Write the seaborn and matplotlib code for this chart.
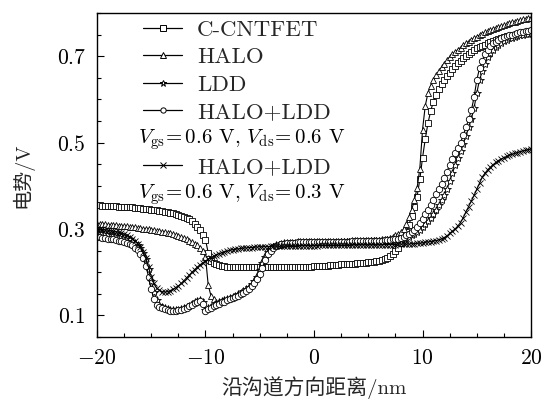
import numpy as np
import pandas as pd
import seaborn as sns
import matplotlib
matplotlib.use("Agg")
import matplotlib.pyplot as plt
from matplotlib.lines import Line2D

# position along the channel (nm), 0.25 nm mesh
position = np.arange(-20, 20.01, 0.25)

cntfet = [
    0.355, 0.355, 0.354, 0.354, 0.354, 0.353, 0.353, 0.353,
    0.352, 0.352, 0.351, 0.351, 0.350, 0.350, 0.349, 0.349,
    0.348, 0.347, 0.346, 0.346, 0.345, 0.344, 0.343, 0.342,
    0.341, 0.340, 0.339, 0.338, 0.336, 0.335, 0.333, 0.331,
    0.328, 0.325, 0.322, 0.318, 0.312, 0.305, 0.297, 0.287,
    0.275, 0.245, 0.226, 0.222, 0.219, 0.217, 0.215, 0.214,
    0.213, 0.213, 0.212, 0.212, 0.212, 0.212, 0.212, 0.212,
    0.212, 0.212, 0.212, 0.212, 0.212, 0.212, 0.212, 0.212,
    0.212, 0.212, 0.212, 0.212, 0.212, 0.212, 0.212, 0.212,
    0.212, 0.212, 0.213, 0.213, 0.213, 0.213, 0.213, 0.213,
    0.214, 0.214, 0.215, 0.215, 0.215, 0.215, 0.216, 0.216,
    0.217, 0.217, 0.218, 0.218, 0.219, 0.219, 0.220, 0.220,
    0.221, 0.221, 0.222, 0.222, 0.223, 0.223, 0.224, 0.225,
    0.226, 0.228, 0.230, 0.233, 0.237, 0.242, 0.249, 0.257,
    0.267, 0.279, 0.292, 0.310, 0.330, 0.350, 0.375, 0.415,
    0.465, 0.508, 0.545, 0.573, 0.595, 0.610, 0.623, 0.635,
    0.645, 0.654, 0.662, 0.670, 0.677, 0.684, 0.690, 0.696,
    0.701, 0.706, 0.710, 0.714, 0.718, 0.721, 0.724, 0.727,
    0.730, 0.732, 0.735, 0.737, 0.740, 0.742, 0.744, 0.746,
    0.747, 0.749, 0.750, 0.751, 0.752, 0.753, 0.754, 0.755,
    0.756,
]
halo = [
    0.312, 0.312, 0.311, 0.311, 0.310, 0.310, 0.309, 0.309,
    0.308, 0.308, 0.307, 0.306, 0.305, 0.305, 0.304, 0.303,
    0.302, 0.301, 0.300, 0.299, 0.298, 0.297, 0.296, 0.295,
    0.294, 0.293, 0.291, 0.290, 0.288, 0.286, 0.284, 0.282,
    0.279, 0.276, 0.273, 0.270, 0.266, 0.262, 0.256, 0.248,
    0.236, 0.170, 0.146, 0.137, 0.131, 0.132, 0.134, 0.136,
    0.138, 0.140, 0.143, 0.146, 0.149, 0.152, 0.156, 0.160,
    0.166, 0.172, 0.181, 0.193, 0.210, 0.226, 0.240, 0.249,
    0.256, 0.260, 0.263, 0.265, 0.266, 0.267, 0.267, 0.268,
    0.268, 0.268, 0.269, 0.269, 0.269, 0.269, 0.270, 0.270,
    0.270, 0.270, 0.270, 0.270, 0.271, 0.271, 0.271, 0.271,
    0.271, 0.271, 0.272, 0.272, 0.272, 0.272, 0.272, 0.273,
    0.273, 0.273, 0.273, 0.273, 0.273, 0.274, 0.274, 0.275,
    0.275, 0.276, 0.277, 0.278, 0.280, 0.282, 0.285, 0.288,
    0.292, 0.300, 0.312, 0.327, 0.345, 0.367, 0.395, 0.440,
    0.530, 0.585, 0.615, 0.632, 0.645, 0.656, 0.665, 0.674,
    0.683, 0.691, 0.698, 0.704, 0.710, 0.715, 0.720, 0.725,
    0.730, 0.734, 0.738, 0.742, 0.745, 0.749, 0.752, 0.755,
    0.758, 0.761, 0.763, 0.766, 0.768, 0.770, 0.772, 0.774,
    0.776, 0.778, 0.779, 0.781, 0.783, 0.785, 0.786, 0.788,
    0.789,
]
ldd = [
    0.293, 0.292, 0.291, 0.290, 0.289, 0.288, 0.287, 0.286,
    0.284, 0.283, 0.281, 0.279, 0.276, 0.273, 0.268, 0.262,
    0.255, 0.245, 0.230, 0.208, 0.180, 0.155, 0.135, 0.125,
    0.120, 0.116, 0.114, 0.113, 0.112, 0.112, 0.113, 0.114,
    0.116, 0.119, 0.122, 0.126, 0.131, 0.134, 0.136, 0.130,
    0.112, 0.116, 0.120, 0.124, 0.127, 0.130, 0.133, 0.135,
    0.138, 0.140, 0.143, 0.146, 0.149, 0.152, 0.156, 0.160,
    0.166, 0.172, 0.180, 0.190, 0.205, 0.222, 0.236, 0.247,
    0.254, 0.259, 0.262, 0.264, 0.266, 0.267, 0.267, 0.268,
    0.268, 0.268, 0.269, 0.269, 0.269, 0.269, 0.270, 0.270,
    0.270, 0.270, 0.270, 0.270, 0.270, 0.270, 0.271, 0.271,
    0.271, 0.271, 0.271, 0.271, 0.271, 0.271, 0.272, 0.272,
    0.272, 0.272, 0.272, 0.272, 0.272, 0.272, 0.273, 0.273,
    0.273, 0.273, 0.273, 0.274, 0.274, 0.274, 0.275, 0.276,
    0.277, 0.278, 0.280, 0.282, 0.285, 0.289, 0.293, 0.298,
    0.305, 0.311, 0.318, 0.326, 0.335, 0.345, 0.355, 0.366,
    0.378, 0.393, 0.410, 0.429, 0.448, 0.464, 0.480, 0.497,
    0.515, 0.535, 0.555, 0.580, 0.615, 0.645, 0.665, 0.682,
    0.697, 0.707, 0.715, 0.721, 0.727, 0.731, 0.735, 0.738,
    0.741, 0.743, 0.745, 0.747, 0.748, 0.750, 0.751, 0.752,
    0.753,
]
halo_ldd = [
    0.282, 0.281, 0.280, 0.279, 0.278, 0.277, 0.276, 0.275,
    0.273, 0.272, 0.270, 0.268, 0.265, 0.262, 0.257, 0.251,
    0.243, 0.232, 0.215, 0.190, 0.160, 0.138, 0.125, 0.119,
    0.116, 0.114, 0.112, 0.111, 0.111, 0.111, 0.112, 0.113,
    0.115, 0.118, 0.121, 0.125, 0.129, 0.132, 0.133, 0.127,
    0.110, 0.114, 0.117, 0.121, 0.124, 0.127, 0.130, 0.132,
    0.135, 0.137, 0.140, 0.143, 0.146, 0.149, 0.153, 0.157,
    0.162, 0.168, 0.175, 0.184, 0.195, 0.210, 0.228, 0.241,
    0.250, 0.256, 0.260, 0.263, 0.265, 0.266, 0.267, 0.267,
    0.268, 0.268, 0.269, 0.269, 0.269, 0.269, 0.270, 0.270,
    0.270, 0.270, 0.270, 0.270, 0.270, 0.270, 0.271, 0.271,
    0.271, 0.271, 0.271, 0.271, 0.271, 0.271, 0.272, 0.272,
    0.272, 0.272, 0.272, 0.272, 0.272, 0.272, 0.273, 0.273,
    0.273, 0.273, 0.274, 0.274, 0.275, 0.276, 0.277, 0.278,
    0.280, 0.282, 0.285, 0.288, 0.292, 0.298, 0.305, 0.313,
    0.323, 0.334, 0.345, 0.356, 0.368, 0.380, 0.392, 0.405,
    0.418, 0.433, 0.448, 0.462, 0.475, 0.487, 0.500, 0.517,
    0.535, 0.554, 0.575, 0.605, 0.645, 0.672, 0.690, 0.704,
    0.715, 0.723, 0.730, 0.734, 0.738, 0.741, 0.744, 0.746,
    0.748, 0.750, 0.752, 0.753, 0.755, 0.756, 0.758, 0.759,
    0.760,
]
halo_ldd_low = [
    0.300, 0.300, 0.299, 0.298, 0.297, 0.296, 0.295, 0.294,
    0.292, 0.290, 0.288, 0.285, 0.282, 0.278, 0.273, 0.266,
    0.258, 0.247, 0.232, 0.212, 0.190, 0.174, 0.163, 0.158,
    0.155, 0.154, 0.155, 0.157, 0.160, 0.164, 0.168, 0.174,
    0.180, 0.187, 0.193, 0.200, 0.206, 0.212, 0.217, 0.222,
    0.226, 0.230, 0.234, 0.237, 0.240, 0.243, 0.245, 0.247,
    0.249, 0.251, 0.252, 0.253, 0.254, 0.255, 0.256, 0.256,
    0.257, 0.257, 0.258, 0.258, 0.259, 0.259, 0.259, 0.259,
    0.260, 0.260, 0.260, 0.260, 0.260, 0.260, 0.261, 0.261,
    0.261, 0.261, 0.261, 0.261, 0.261, 0.261, 0.261, 0.261,
    0.261, 0.261, 0.262, 0.262, 0.262, 0.262, 0.262, 0.262,
    0.262, 0.262, 0.262, 0.262, 0.263, 0.263, 0.263, 0.263,
    0.263, 0.263, 0.263, 0.263, 0.263, 0.263, 0.263, 0.263,
    0.263, 0.263, 0.264, 0.264, 0.264, 0.264, 0.264, 0.265,
    0.265, 0.265, 0.265, 0.265, 0.266, 0.266, 0.267, 0.267,
    0.268, 0.269, 0.270, 0.271, 0.272, 0.273, 0.275, 0.277,
    0.280, 0.284, 0.290, 0.295, 0.300, 0.307, 0.315, 0.326,
    0.340, 0.352, 0.365, 0.378, 0.392, 0.406, 0.420, 0.429,
    0.437, 0.443, 0.449, 0.454, 0.458, 0.462, 0.465, 0.468,
    0.471, 0.473, 0.475, 0.477, 0.479, 0.481, 0.482, 0.484,
    0.485,
]

series_names = ["C-CNTFET", "HALO", "LDD", "HALO+LDD", "HALO+LDD"]
series_values = [cntfet, halo, ldd, halo_ldd, halo_ldd_low]
series_markers = ["s", "^", "*", "o", "x"]
bias_labels = [r"$V_{\rm gs}\!=0.6$ V, $V_{\rm ds}\!=0.6$ V",
               r"$V_{\rm gs}\!=0.6$ V, $V_{\rm ds}\!=0.3$ V"]

sns.set_theme(style="ticks")
plt.rcParams["font.family"] = ["cmr10", "Noto Sans CJK SC", "DejaVu Sans"]
plt.rcParams["mathtext.fontset"] = "cm"
plt.rcParams["axes.formatter.use_mathtext"] = True
plt.rcParams["axes.unicode_minus"] = True

fig = plt.figure(figsize=(5.43, 4.01), dpi=100)
ax = fig.add_axes([0.1786, 0.1596, 0.7994, 0.808])

for vals, mk in zip(series_values, series_markers):
    df = pd.DataFrame({"x": position, "y": vals})
    face = "white" if mk != "x" else "black"
    size = 6.0 if mk == "*" else 4.6
    sns.lineplot(data=df, x="x", y="y", ax=ax, color="black", linewidth=0.8,
                 marker=mk, markersize=size, markerfacecolor=face,
                 markeredgecolor="black", markeredgewidth=0.6, legend=False)

ax.set_xlim(-20, 20)
ax.set_ylim(0.05, 0.8)
ax.set_xticks([-20, -10, 0, 10, 20])
ax.set_xticks(np.arange(-20, 20.1, 2.5), minor=True)
ax.set_yticks([0.1, 0.3, 0.5, 0.7])
ax.set_yticks(np.arange(0.05, 0.801, 0.05), minor=True)
ax.tick_params(axis="both", which="both", direction="in", top=False, right=False,
               labelsize=15.5, colors="black", width=0.8)
ax.tick_params(axis="both", which="major", length=5, pad=8)
ax.tick_params(axis="both", which="minor", length=3)
for sp in ax.spines.values():
    sp.set_linewidth(1.0)
    sp.set_color("black")

ax.set_xlabel("沿沟道方向距离/nm", fontsize=15, labelpad=6)
ax.set_ylabel("电势/V", fontsize=14.5, labelpad=17)

# legend, with blank rows reserved for the bias conditions
handles, labels = [], []
for name, mk in zip(series_names[:4], series_markers[:4]):
    handles.append(Line2D([], [], color="black", linewidth=0.9, marker=mk,
                          markersize=5 if mk == "*" else 3.8, markerfacecolor="white",
                          markeredgecolor="black", markeredgewidth=0.7))
    labels.append(name)
handles.append(Line2D([], [], linestyle="none"))
labels.append(" ")
handles.append(Line2D([], [], color="black", linewidth=0.9, marker="x",
                      markersize=4, markeredgewidth=0.7))
labels.append(series_names[4])
handles.append(Line2D([], [], linestyle="none"))
labels.append(" ")

leg = ax.legend(handles, labels, loc="upper left", bbox_to_anchor=(0.075, 1.021),
                frameon=False, fontsize=16.5, handlelength=1.7, handletextpad=0.65,
                labelspacing=0.32, borderaxespad=0.2)

fig.canvas.draw()
renderer = fig.canvas.get_renderer()
inv = ax.transAxes.inverted()
x0 = leg.legend_handles[0].get_window_extent(renderer).x0
for idx, text in zip([4, 6], bias_labels):
    bb = leg.get_texts()[idx].get_window_extent(renderer)
    xa, ya = inv.transform((x0 - 3, (bb.y0 + bb.y1) / 2))
    ax.text(xa, ya, text, transform=ax.transAxes, fontsize=15,
            ha="left", va="center", color="black")

fig.savefig("out.png", dpi=100)
